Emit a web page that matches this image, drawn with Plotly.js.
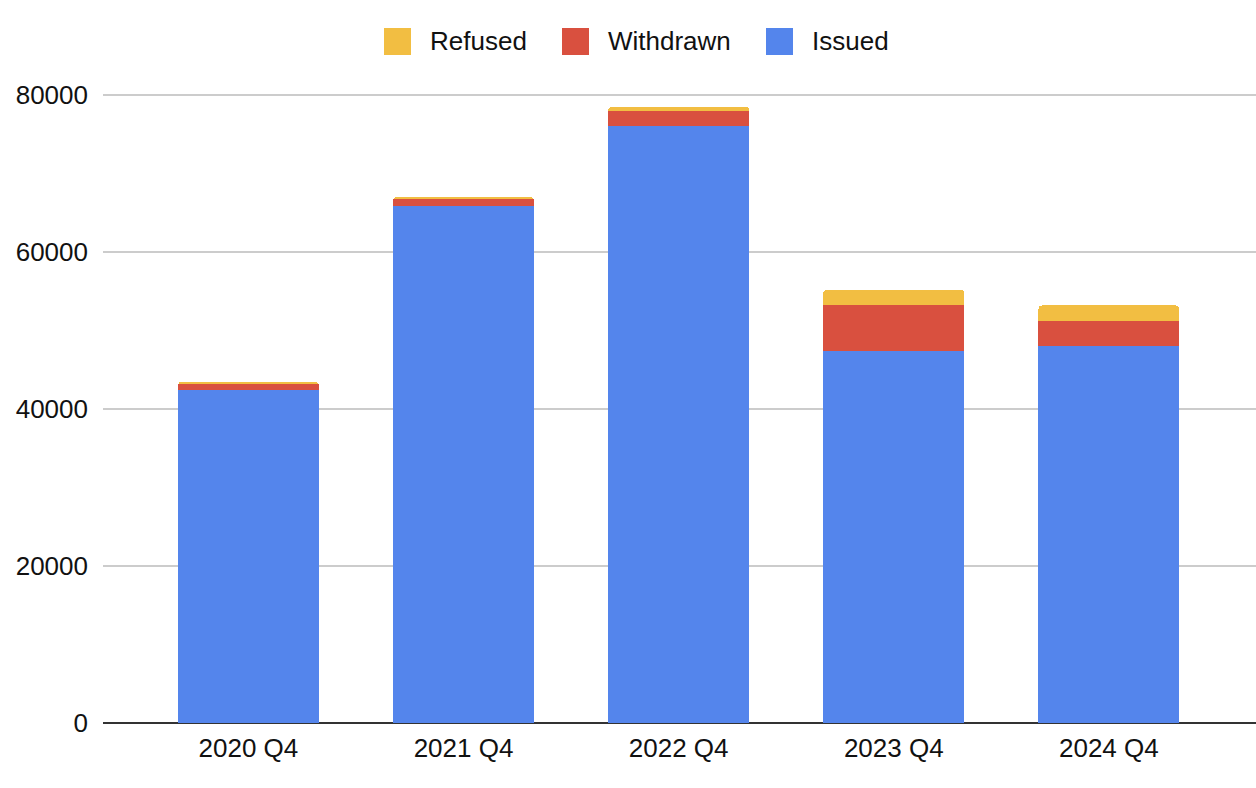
<!DOCTYPE html>
<html>
<head>
<meta charset="utf-8">
<script src="https://cdn.plot.ly/plotly-3.0.1.min.js"></script>
<style>html,body{margin:0;padding:0;background:#fff;}#chart{width:1256px;height:788px;}</style>
</head>
<body>
<div id="chart"></div>
<script>
const categories = ["2020 Q4", "2021 Q4", "2022 Q4", "2023 Q4", "2024 Q4"];
const issued = [42400, 65900, 76000, 47400, 48000];
const withdrawn = [800, 850, 1950, 5850, 3250];
const refused = [300, 300, 550, 1950, 1950];
const seriesNames = ["Issued", "Withdrawn", "Refused"];
const seriesColors = ["#5485EC", "#D9503F", "#F2BE42"];
const yTicks = [0, 20000, 40000, 60000, 80000];

const seriesValues = [issued, withdrawn, refused];
const xIdx = categories.map((c, i) => i);
const traces = seriesValues.map((vals, k) => ({
  type: 'bar',
  name: seriesNames[k],
  x: xIdx,
  y: vals,
  marker: {color: seriesColors[k], line: {width: 0}},
  hoverinfo: 'x+y+name'
}));

const FONT = 'Liberation Sans, Arial, sans-serif';
const TXT = '#111111';

// custom legend (order: Refused, Withdrawn, Issued)
const legendOrder = [2, 1, 0];
const legendX = [384, 562, 766]; // left edge of squares in px
const shapes = [];
const annotations = [];
legendOrder.forEach((k, j) => {
  const x0 = legendX[j];
  shapes.push({
    type: 'rect', xref: 'paper', yref: 'paper',
    x0: (x0 - 103) / 1153, x1: (x0 + 27 - 103) / 1153,
    y0: (723 - 55) / 631, y1: (723 - 28) / 631,
    fillcolor: seriesColors[k], line: {width: 0}
  });
  annotations.push({
    xref: 'paper', yref: 'paper',
    x: (x0 + 44 - 103) / 1153, y: (723 - 41) / 631,
    xanchor: 'left', yanchor: 'middle',
    text: seriesNames[k], showarrow: false,
    font: {family: FONT, size: 26, color: TXT}
  });
});

const layout = {
  width: 1256, height: 788,
  margin: {l: 103, r: 0, t: 92, b: 65},
  paper_bgcolor: '#fff', plot_bgcolor: '#fff',
  barmode: 'stack',
  bargap: 0.345,
  barcornerradius: 4,
  showlegend: false,
  font: {family: FONT, size: 26, color: TXT},
  xaxis: {
    range: [-0.676, 4.684],
    tickmode: 'array', tickvals: xIdx, ticktext: categories,
    showgrid: false, zeroline: false, showline: false,
    ticks: '', ticklabelstandoff: 7,
    tickfont: {family: FONT, size: 26, color: TXT},
    fixedrange: true
  },
  yaxis: {
    range: [0, 80382],
    tickmode: 'array', tickvals: yTicks, ticktext: yTicks.map(String),
    showgrid: true, gridcolor: '#CCCCCC', gridwidth: 1.3,
    zeroline: true, zerolinecolor: '#333333', zerolinewidth: 1.6,
    showline: false, ticks: '', ticklabelstandoff: 14,
    tickfont: {family: FONT, size: 26, color: TXT},
    fixedrange: true
  },
  shapes: shapes,
  annotations: annotations
};

Plotly.newPlot('chart', traces, layout, {displayModeBar: false, staticPlot: true});
</script>
</body>
</html>
